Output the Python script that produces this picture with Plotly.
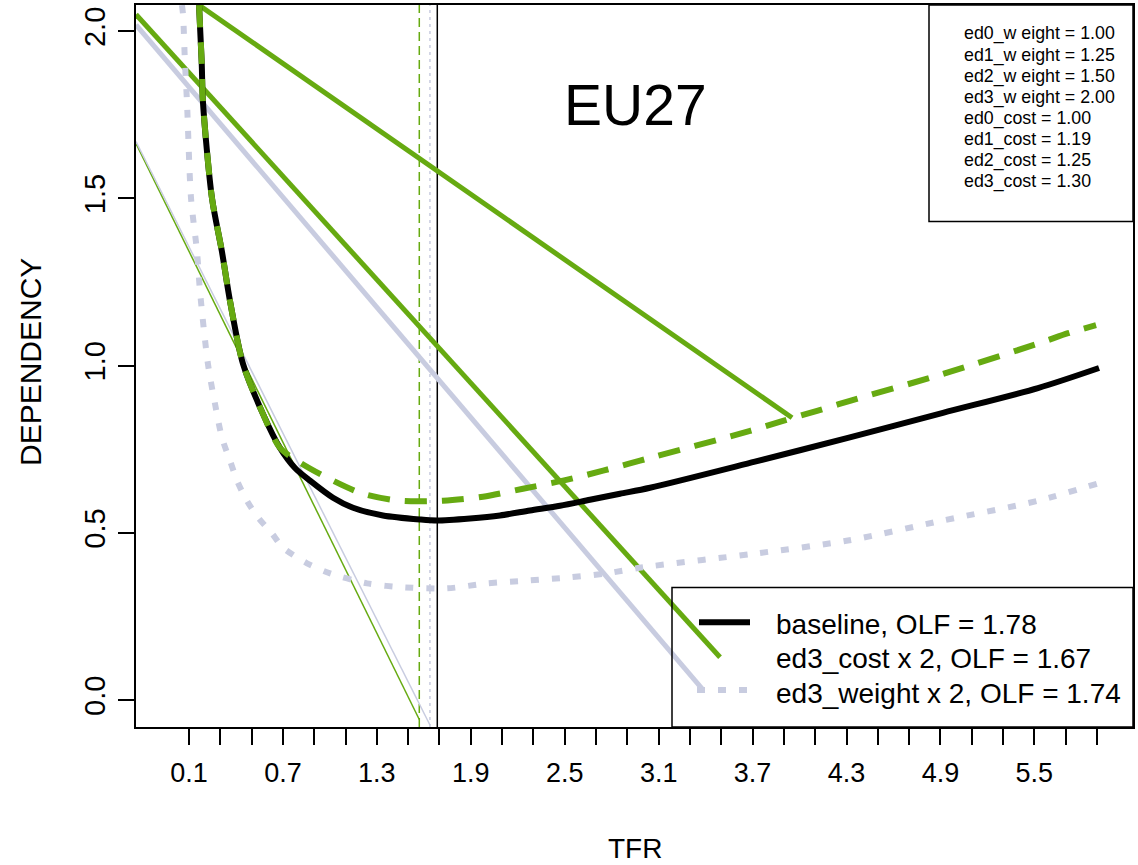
import plotly.graph_objects as go

# ---------------- data ----------------
base_tfr = [0.164, 0.181, 0.189, 0.247, 0.310, 0.362, 0.445, 0.573, 0.681, 0.777, 0.873,
            1.020, 1.148, 1.339, 1.576, 1.684, 1.895, 2.087, 2.278, 2.470, 2.661, 2.853,
            3.045, 3.715, 4.309, 4.916, 5.523, 5.913]
base_dep = [2.078, 1.908, 1.789, 1.500, 1.342, 1.193, 1.005, 0.855, 0.754, 0.694, 0.656,
            0.605, 0.575, 0.552, 0.540, 0.537, 0.543, 0.552, 0.567, 0.581, 0.599, 0.617,
            0.635, 0.713, 0.784, 0.859, 0.933, 0.993]

cost_tfr = [0.164, 0.181, 0.189, 0.247, 0.310, 0.362, 0.445, 0.573, 0.681, 0.809, 0.982,
            1.211, 1.448, 1.722, 1.978, 2.233, 2.489, 2.745, 2.981, 3.684, 3.894, 4.112,
            4.322, 4.916, 5.536, 5.715, 5.894]
cost_dep = [2.078, 1.908, 1.789, 1.500, 1.342, 1.193, 1.005, 0.855, 0.754, 0.710, 0.665,
            0.617, 0.596, 0.596, 0.608, 0.632, 0.656, 0.686, 0.716, 0.805, 0.835, 0.865,
            0.895, 0.975, 1.068, 1.097, 1.121]

weight_tfr = [0.055, 0.062, 0.074, 0.087, 0.113, 0.151, 0.170, 0.221, 0.266, 0.311, 0.362,
              0.407, 0.470, 0.541, 0.630, 0.700, 0.854, 1.001, 1.237, 1.480, 1.748, 2.004,
              2.278, 2.534, 2.770, 3.000, 3.715, 4.309, 4.916, 5.523, 5.900]
weight_dep = [2.078, 2.049, 1.908, 1.789, 1.500, 1.342, 1.223, 1.005, 0.886, 0.784, 0.716,
              0.656, 0.596, 0.546, 0.498, 0.456, 0.409, 0.379, 0.349, 0.337, 0.334, 0.349,
              0.358, 0.367, 0.379, 0.397, 0.438, 0.477, 0.537, 0.596, 0.647]

# straight segments: (x0, x1), (y0, y1)
seg_cost_thick1 = ([0.164, 3.952], [2.078, 0.844])
seg_cost_thick2 = ([-0.2386, 3.492], [2.050, 0.128])
seg_weight_thick = ([-0.2386, 3.385], [2.019, 0.030])
seg_cost_thin = ([-0.2386, 1.571], [1.664, -0.058])
seg_weight_thin = ([-0.2386, 1.639], [1.670, -0.0745])

olf_base_pos = 1.686
olf_cost_pos = 1.571
olf_weight_pos = 1.639

x_tickvals = [round(0.1 + 0.2 * i, 1) for i in range(30)]
x_labels = ["0.1", "0.7", "1.3", "1.9", "2.5", "3.1", "3.7", "4.3", "4.9", "5.5"]
y_tickvals = [0.0, 0.5, 1.0, 1.5, 2.0]
y_labels = ["0.0", "0.5", "1.0", "1.5", "2.0"]

legend_labels = ["baseline, OLF = 1.78", "ed3_cost x 2, OLF = 1.67", "ed3_weight x 2, OLF = 1.74"]
param_labels = ["ed0_w eight = 1.00", "ed1_w eight = 1.25", "ed2_w eight = 1.50",
                "ed3_w eight = 2.00", "ed0_cost = 1.00", "ed1_cost = 1.19",
                "ed2_cost = 1.25", "ed3_cost = 1.30"]

GREEN = "#66AA11"
LAV = "#C8CCE0"
FONT = "Liberation Sans, Arial, sans-serif"

XR = [-0.2386, 6.130]
YR = [-0.0805, 2.0784]

fig = go.Figure()

def add_line(x, y, color, width, dash="solid", shape="linear"):
    fig.add_trace(go.Scatter(x=x, y=y, mode="lines", showlegend=False, hoverinfo="skip",
                             line=dict(color=color, width=width, dash=dash, shape=shape,
                                       smoothing=0.8 if shape == "spline" else None)))

# thin vertical lines (OLF)
add_line([olf_cost_pos, olf_cost_pos], [YR[0], YR[1]], GREEN, 1.5, "9px,5px")
add_line([olf_weight_pos, olf_weight_pos], [YR[0], YR[1]], LAV, 1.5, "3px,4px")
add_line([olf_base_pos, olf_base_pos], [YR[0], YR[1]], "black", 1.5)

# thin diagonal lines
add_line(*seg_cost_thin, GREEN, 1.5)
add_line(*seg_weight_thin, LAV, 1.5)

# thick diagonal lines
add_line(*seg_weight_thick, LAV, 5)
add_line(*seg_cost_thick2, GREEN, 5)
add_line(*seg_cost_thick1, GREEN, 5)

# curves
add_line(weight_tfr, weight_dep, LAV, 6, "8px,13px", "spline")
add_line(base_tfr, base_dep, "black", 6, "solid", "spline")
add_line(cost_tfr, cost_dep, GREEN, 6, "22px,15px", "spline")

# ---------------- layout ----------------
L, T, R, B = 136, 3, 5, 138
W, H = 1138, 865
PW, PH = W - L - R, H - T - B

def px_x(px):
    return (px - L) / PW

def px_y(py):
    return (H - B - py) / PH

shapes = []
# top-right parameter box
shapes.append(dict(type="rect", xref="paper", yref="paper",
                   x0=px_x(929), x1=1, y0=px_y(220), y1=1,
                   line=dict(color="black", width=1.5)))
# bottom-right legend box
shapes.append(dict(type="rect", xref="paper", yref="paper",
                   x0=px_x(672), x1=1, y0=0, y1=px_y(587),
                   line=dict(color="black", width=1.5)))
# legend samples
shapes.append(dict(type="line", xref="paper", yref="paper",
                   x0=px_x(699), x1=px_x(750), y0=px_y(622), y1=px_y(622),
                   line=dict(color="black", width=6)))
shapes.append(dict(type="line", xref="paper", yref="paper",
                   x0=px_x(697), x1=px_x(752), y0=px_y(690), y1=px_y(690),
                   line=dict(color=LAV, width=6, dash="8px,13px")))

annotations = []
for i, t in enumerate(param_labels):
    annotations.append(dict(text=t, xref="paper", yref="paper", x=px_x(962),
                            y=px_y(32 + 21.2 * i), xanchor="left", yanchor="middle",
                            showarrow=False, font=dict(size=17.8, color="black", family=FONT)))
for i, t in enumerate(legend_labels):
    annotations.append(dict(text=t, xref="paper", yref="paper", x=px_x(774),
                            y=px_y(624 + 34.5 * i), xanchor="left", yanchor="middle",
                            showarrow=False, font=dict(size=28, color="black", family=FONT)))
annotations.append(dict(text="EU27", xref="paper", yref="paper", x=px_x(635), y=px_y(103),
                        xanchor="center", yanchor="middle", showarrow=False,
                        font=dict(size=57, color="black", family=FONT)))
annotations.append(dict(text="TFR", xref="paper", yref="paper", x=px_x(635), y=px_y(849),
                        xanchor="center", yanchor="middle", showarrow=False,
                        font=dict(size=28, color="black", family=FONT)))
annotations.append(dict(text="DEPENDENCY", xref="paper", yref="paper", x=px_x(30), y=px_y(361),
                        xanchor="center", yanchor="middle", showarrow=False, textangle=-90,
                        font=dict(size=30, color="black", family=FONT)))

x_ticktext = [t if t in x_labels else "" for t in [f"{v:.1f}" for v in x_tickvals]]

fig.update_layout(
    width=W, height=H,
    margin=dict(l=L, r=R, t=T, b=B, pad=0),
    paper_bgcolor="white", plot_bgcolor="white",
    showlegend=False,
    shapes=shapes, annotations=annotations,
    font=dict(family=FONT, color="black"),
    xaxis=dict(range=XR, tickmode="array", tickvals=x_tickvals, ticktext=x_ticktext,
               ticks="outside", ticklen=16, tickwidth=1.5, tickcolor="black",
               showline=True, mirror=True, linecolor="black", linewidth=1.5,
               showgrid=False, zeroline=False, tickangle=0,
               tickfont=dict(size=27, family=FONT, color="black"), ticklabelstandoff=5),
    yaxis=dict(range=YR, tickmode="array", tickvals=y_tickvals, ticktext=y_labels,
               ticks="outside", ticklen=16, tickwidth=1.5, tickcolor="black",
               showline=True, mirror=True, linecolor="black", linewidth=1.5,
               showgrid=False, zeroline=False, tickangle=-90,
               tickfont=dict(size=29, family=FONT, color="black"), ticklabelstandoff=2),
)

fig.write_html("out.html")
